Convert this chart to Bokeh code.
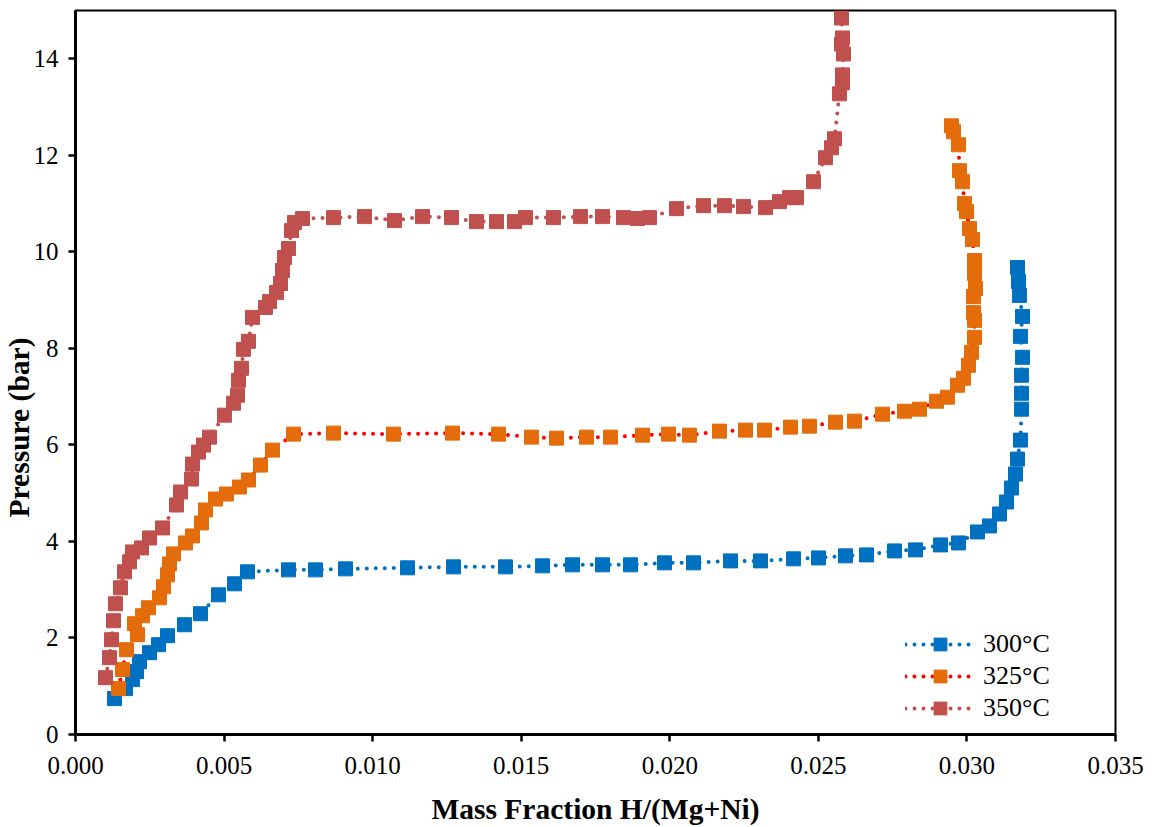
from bokeh.plotting import figure
from bokeh.models import Range1d, FixedTicker, NumeralTickFormatter, Legend, LegendItem, Title
from bokeh.embed import file_html
from bokeh.resources import INLINE

labels = ["300°C", "325°C", "350°C"]

x_300 = [0.001312, 0.001683, 0.001918, 0.002053, 0.002154, 0.002490, 0.002793, 0.003096, 0.003668,
         0.004207, 0.004813, 0.005351, 0.005788, 0.007168, 0.008077, 0.009087, 0.011173, 0.012721,
         0.014471, 0.015716, 0.016726, 0.017736, 0.018678, 0.019822, 0.020798, 0.022043, 0.023053,
         0.024163, 0.025005, 0.025913, 0.026620, 0.027563, 0.028269, 0.029111, 0.029716, 0.030356,
         0.030760, 0.031096, 0.031332, 0.031500, 0.031635, 0.031702, 0.031803, 0.031837, 0.031837,
         0.031837, 0.031871, 0.031803, 0.031871, 0.031770, 0.031736, 0.031702]
p_300 = [0.744, 0.951, 1.137, 1.302, 1.509, 1.695, 1.861, 2.047, 2.274,
         2.502, 2.894, 3.122, 3.370, 3.411, 3.411, 3.432, 3.453, 3.473,
         3.473, 3.494, 3.515, 3.515, 3.515, 3.556, 3.556, 3.597, 3.597,
         3.639, 3.659, 3.701, 3.721, 3.804, 3.825, 3.928, 3.969, 4.197,
         4.321, 4.569, 4.817, 5.107, 5.396, 5.706, 6.099, 6.740, 7.070,
         7.443, 7.815, 8.249, 8.662, 9.097, 9.386, 9.675]

x_325 = [0.001447, 0.001582, 0.001716, 0.002087, 0.001986, 0.002255, 0.002457, 0.002827, 0.002962,
         0.003096, 0.003163, 0.003298, 0.003702, 0.003938, 0.004240, 0.004375, 0.004712, 0.005082,
         0.005519, 0.005822, 0.006226, 0.006630, 0.007337, 0.008683, 0.010702, 0.012688, 0.014236,
         0.015346, 0.016188, 0.017197, 0.018005, 0.019082, 0.019957, 0.020664, 0.021673, 0.022548,
         0.023188, 0.024063, 0.024702, 0.025577, 0.026216, 0.027159, 0.027899, 0.028404, 0.028976,
         0.029346, 0.029683, 0.029885, 0.030053, 0.030154, 0.030255, 0.030255, 0.030221, 0.030221,
         0.030289, 0.030255, 0.030255, 0.030188, 0.030087, 0.029986, 0.029919, 0.029851, 0.029750,
         0.029716, 0.029549, 0.029481]
p_325 = [0.951, 1.344, 1.757, 2.067, 2.295, 2.460, 2.626, 2.832, 3.060,
         3.308, 3.535, 3.742, 3.969, 4.114, 4.383, 4.652, 4.879, 4.982,
         5.127, 5.272, 5.582, 5.892, 6.223, 6.244, 6.223, 6.244, 6.223,
         6.161, 6.140, 6.161, 6.161, 6.202, 6.223, 6.202, 6.285, 6.306,
         6.306, 6.368, 6.388, 6.471, 6.492, 6.636, 6.698, 6.740, 6.905,
         6.988, 7.236, 7.381, 7.649, 7.918, 8.228, 8.580, 8.745, 9.076,
         9.241, 9.551, 9.820, 10.254, 10.482, 10.833, 10.999, 11.453, 11.681,
         12.218, 12.487, 12.611]

x_350 = [0.001010, 0.001144, 0.001212, 0.001279, 0.001346, 0.001514, 0.001649, 0.001817, 0.001918,
         0.002221, 0.002490, 0.002928, 0.003399, 0.003534, 0.003904, 0.003938, 0.004139, 0.004308,
         0.004510, 0.005014, 0.005317, 0.005452, 0.005486, 0.005587, 0.005654, 0.005822, 0.005957,
         0.006394, 0.006529, 0.006764, 0.006899, 0.006966, 0.007034, 0.007168, 0.007269, 0.007370,
         0.007640, 0.008683, 0.009726, 0.010736, 0.011678, 0.012654, 0.013495, 0.014168, 0.014774,
         0.015144, 0.016087, 0.016995, 0.017736, 0.018442, 0.018913, 0.019317, 0.020226, 0.021135,
         0.021841, 0.022481, 0.023221, 0.023692, 0.024029, 0.024264, 0.024837, 0.025240, 0.025442,
         0.025543, 0.025712, 0.025813, 0.025813, 0.025846, 0.025779, 0.025813, 0.025779]
p_350 = [1.178, 1.592, 1.964, 2.357, 2.708, 3.039, 3.370, 3.577, 3.783,
         3.866, 4.073, 4.280, 4.755, 5.024, 5.293, 5.603, 5.851, 5.996,
         6.161, 6.616, 6.864, 7.029, 7.339, 7.587, 7.980, 8.146, 8.642,
         8.848, 8.973, 9.159, 9.345, 9.613, 9.882, 10.068, 10.440, 10.606,
         10.689, 10.709, 10.730, 10.647, 10.730, 10.709, 10.626, 10.626, 10.626,
         10.709, 10.709, 10.730, 10.730, 10.709, 10.689, 10.709, 10.895, 10.957,
         10.957, 10.937, 10.916, 11.040, 11.123, 11.123, 11.453, 11.950, 12.156,
         12.342, 13.273, 13.500, 13.665, 14.100, 14.306, 14.431, 14.844]

x_ticks = [0.0, 0.005, 0.010, 0.015, 0.020, 0.025, 0.030, 0.035]
y_ticks = [0, 2, 4, 6, 8, 10, 12, 14]

FONT = "'Liberation Serif'"

p = figure(width=1152, height=827, output_backend="svg", toolbar_location=None,
           x_range=Range1d(0, 0.035), y_range=Range1d(0, 15),
           min_border_left=75, min_border_right=37, min_border_top=10, min_border_bottom=92)
p.background_fill_color = "white"
p.border_fill_color = "white"
p.outline_line_color = "black"
p.outline_line_width = 2
p.xgrid.visible = False
p.ygrid.visible = False

for ax in (p.xaxis[0], p.yaxis[0]):
    ax.axis_line_color = "black"
    ax.axis_line_width = 3
    ax.major_tick_line_color = "black"
    ax.major_tick_line_width = 2.5
    ax.major_tick_out = 7
    ax.major_tick_in = 0
    ax.minor_tick_line_color = None
    ax.major_label_text_font = FONT
    ax.major_label_text_font_size = "25px"
    ax.major_label_text_color = "black"

p.xaxis.ticker = FixedTicker(ticks=x_ticks)
p.yaxis.ticker = FixedTicker(ticks=y_ticks)
p.xaxis.formatter = NumeralTickFormatter(format="0.000")
p.xaxis.major_label_standoff = 15
p.yaxis.major_label_standoff = 10

p.xaxis.axis_label = "Mass Fraction H/(Mg+Ni)"
p.xaxis.axis_label_text_font = FONT
p.xaxis.axis_label_text_font_size = "29.5px"
p.xaxis.axis_label_text_font_style = "bold"
p.xaxis.axis_label_text_color = "black"
p.xaxis.axis_label_standoff = 16

ytitle = Title(text="Pressure (bar)", align="left", offset=217, text_font=FONT,
               text_font_size="29.5px", text_font_style="bold", text_color="black", standoff=-8)
p.add_layout(ytitle, "left")

series = [
    (x_300, p_300, "#0070C0", "#0070C0"),
    (x_325, p_325, "#E46C0A", "#FF0000"),
    (x_350, p_350, "#C0504D", "#C0504D"),
]
items = []
for (xs, ys, mcol, lcol), lab in zip(series, labels):
    ln = p.line(xs, ys, line_color=lcol, line_width=4, line_dash="0 9", line_cap="round")
    sc = p.scatter(xs, ys, marker="square", size=14, fill_color=mcol, line_color=mcol)
    items.append(LegendItem(label=lab, renderers=[ln, sc]))

legend = Legend(items=items, location=(830, 10), padding=0, margin=0, spacing=0,
                glyph_width=70, glyph_height=32, label_height=32, label_standoff=8,
                label_text_font=FONT, label_text_font_style="normal", label_text_font_size="26px",
                label_text_color="black", border_line_color=None, background_fill_alpha=0)
p.add_layout(legend, "center")

open("out.html", "w").write(file_html(p, INLINE))
